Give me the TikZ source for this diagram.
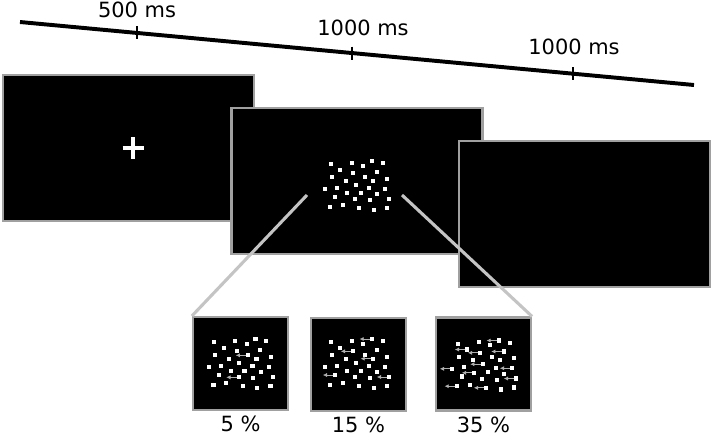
\documentclass[tikz,border=0pt]{standalone}
\usepackage{fontspec}
\setmainfont{DejaVu Sans}
\usetikzlibrary{arrows.meta,positioning}
\definecolor{ScreenEdge}{RGB}{160,160,160}
\definecolor{ZoomGray}{RGB}{196,196,196}
\definecolor{MoveGray}{RGB}{176,176,176}
\tikzset{
  screen/.style={draw=ScreenEdge, fill=black, line width=1.9pt,
                 minimum width=6.275cm, minimum height=3.65cm},
  panel/.style={draw=ScreenEdge, fill=black, line width=1.5pt,
                minimum width=2.375cm, minimum height=2.325cm},
  timelbl/.style={anchor=base, inner sep=0pt, font=\fontsize{14.9pt}{17pt}\selectfont},
  pctlbl/.style={inner sep=0pt, font=\fontsize{14.9pt}{17pt}\selectfont},
  tickmark/.style={line width=1.5pt},
  zoomline/.style={draw=ZoomGray, line width=2.2pt},
  movearr/.style={-{Latex[length=3pt,width=3pt]}, draw=MoveGray, line width=0.7pt}
}
% dot positions (px) around the centre of a cloud
\newcommand{\cloudpts}{-26.3/-22.7, -5.3/-24.3, 6.3/-21.3, 15/-26, 25.7/-23.7,
  -16.7/-17, -3.7/-13.7, 19.7/-15, -25.3/-9.7, -11.3/-6.3, 7.7/-9.7, 16/-6.3,
  30.3/-8.3, -31.7/2.3, -19.7/0.7, -1.3/-2.3, 12/1.3, 28.3/1.7, -9.7/6.3,
  4/5.7, 20.3/7.3, -21.7/10, -1.7/12.3, 12.7/13.3, 32.3/12, -27/19.7,
  -14.3/18.3, 2.3/21.3, 16.7/23, 30/21}
\newcommand{\dotcloud}[1]{%
  \foreach \dx/\dy [count=\i] in \cloudpts {
    \coordinate (#1-\i) at ([shift={(\dx,\dy)}]#1);
    \fill[white] ([shift={(-2.1,-2.1)}]#1-\i) rectangle ([shift={(2.1,2.1)}]#1-\i);
  }}

\begin{document}
\begin{tikzpicture}[x=0.025cm, y=-0.025cm]
\useasboundingbox (0,0) rectangle (714,437);

\coordinate (tl0) at (20,22);
\coordinate (tl1) at (694,85);
\draw[line width=2.8pt] (tl0) -- (tl1)
  coordinate[pos=0.1736] (tk1) coordinate[pos=0.4926] (tk2) coordinate[pos=0.8205] (tk3);
\foreach \t in {tk1,tk2,tk3}
  \draw[tickmark] (\t) ++(0,-6.5) -- ++(0,13);
\node[timelbl] (lbl1) at ([shift={(0,-15)}]tk1) {500 ms};
\node[timelbl] (lbl2) at ([shift={(11,-18)}]tk2) {1000 ms};
\node[timelbl] (lbl3) at ([shift={(1,-18.7)}]tk3) {1000 ms};

\node[screen] (scr1) at (128.5,148) {};
\node[screen] (scr2) at (357,181) {};
\node[screen] (scr3) at (584.5,214) {};

\coordinate (fix) at ([shift={(4.5,0)}]scr1.center);
\draw[white, line width=2.8pt] (fix) ++(-10.5,0) -- ++(21,0);
\draw[white, line width=2.8pt] (fix) ++(0,-11) -- ++(0,22);

\coordinate (cl0) at ([shift={(0,6)}]scr2.center);
\dotcloud{cl0}

\node[panel] (p5) at (240.5,363.5) {};
\node[panel] (p15) at (358.5,364.5) {};
\node[panel] (p35) at (483.5,364) {};

\coordinate (zl) at ([shift={(-50,8)}]cl0);
\coordinate (zr) at ([shift={(45,8)}]cl0);
\draw[zoomline] (zl) -- (p5.north west);
\draw[zoomline] (zr) -- (p35.north east);

\coordinate (cl1) at ([shift={(0,1.5)}]p5.center);
\coordinate (cl2) at ([shift={(-1.5,0.5)}]p15.center);
\coordinate (cl3) at ([shift={(0.5,2.5)}]p35.center);
\dotcloud{cl1}
\dotcloud{cl2}
\dotcloud{cl3}
\foreach \j in {11,23}
  \draw[movearr] ([shift={(-2,0)}]cl1-\j) -- ([shift={(-12.5,0)}]cl1-\j);
\foreach \j in {4,7,12,22,25}
  \draw[movearr] ([shift={(-2,0)}]cl2-\j) -- ([shift={(-12.5,0)}]cl2-\j);
\foreach \j in {4,6,7,8,14,16,18,19,25,26,28}
  \draw[movearr] ([shift={(-2,0)}]cl3-\j) -- ([shift={(-12.5,0)}]cl3-\j);

\node[pctlbl, below=3.5pt of p5] (pct5) {5 \%};
\node[pctlbl, below=3.5pt of p15] (pct15) {15 \%};
\node[pctlbl, below=3.5pt of p35] (pct35) {35 \%};
\end{tikzpicture}
\end{document}
